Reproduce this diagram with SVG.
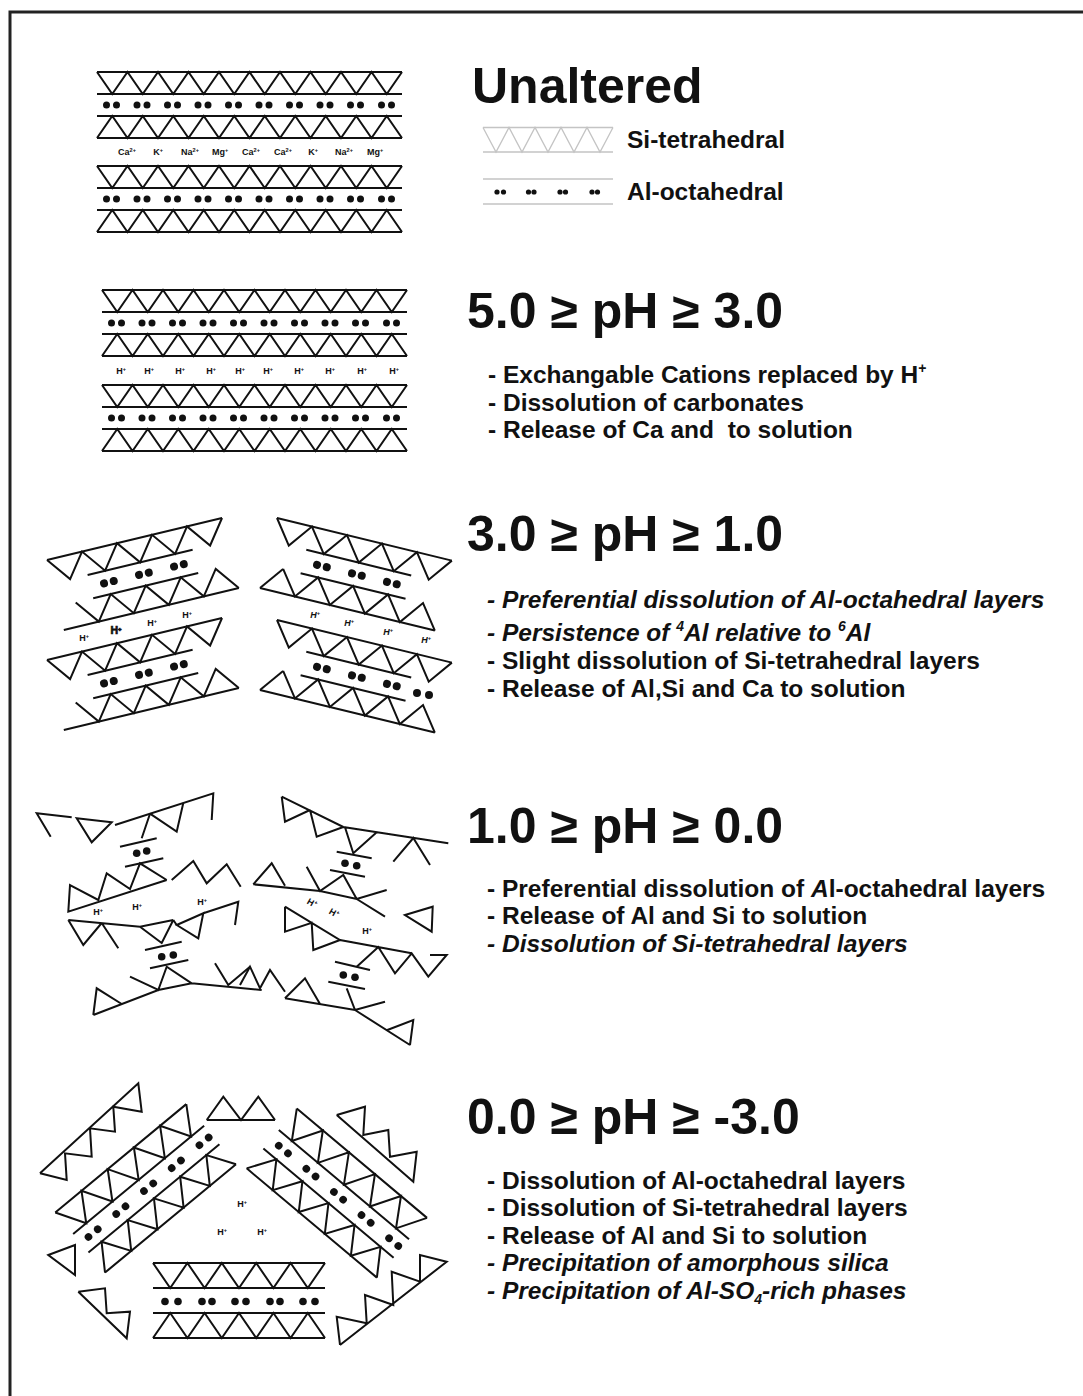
<svg xmlns="http://www.w3.org/2000/svg" xmlns:xlink="http://www.w3.org/1999/xlink" width="1083" height="1396" viewBox="0 0 1083 1396">
<style>
  .ln{fill:none;stroke:#111;stroke-width:2;stroke-linejoin:miter}
  .dt{fill:#111}
  .lg{fill:none;stroke:#c4c4c4;stroke-width:1.3}
  .tx{font-family:"Liberation Sans",Arial,sans-serif;font-weight:bold;fill:#111}
  .hd{font-size:50px}
  .bd{font-size:24.5px}
  .it{font-style:italic}
</style>
<defs>
  <!-- flat T-O-T layer: tetrahedral / octahedral / tetrahedral, 10 units wide -->
  <g id="tot">
    <path class="ln" d="M0,0H305M0,22H305M0,44H305M0,66H305"/>
    <polyline class="ln" points="0,0 15.25,22 30.5,0 45.75,22 61,0 76.25,22 91.5,0 106.75,22 122,0 137.25,22 152.5,0 167.75,22 183,0 198.25,22 213.5,0 228.75,22 244,0 259.25,22 274.5,0 289.75,22 305,0"/>
    <polyline class="ln" points="0,66 15.25,44 30.5,66 45.75,44 61,66 76.25,44 91.5,66 106.75,44 122,66 137.25,44 152.5,66 167.75,44 183,66 198.25,44 213.5,66 228.75,44 244,66 259.25,44 274.5,66 289.75,44 305,66"/>
    <g class="dt">
      <circle cx="9.5" cy="33" r="3.5"/><circle cx="19.5" cy="33" r="3.5"/>
      <circle cx="40" cy="33" r="3.5"/><circle cx="50" cy="33" r="3.5"/>
      <circle cx="70.5" cy="33" r="3.5"/><circle cx="80.5" cy="33" r="3.5"/>
      <circle cx="101" cy="33" r="3.5"/><circle cx="111" cy="33" r="3.5"/>
      <circle cx="131.5" cy="33" r="3.5"/><circle cx="141.5" cy="33" r="3.5"/>
      <circle cx="162" cy="33" r="3.5"/><circle cx="172" cy="33" r="3.5"/>
      <circle cx="192.5" cy="33" r="3.5"/><circle cx="202.5" cy="33" r="3.5"/>
      <circle cx="223" cy="33" r="3.5"/><circle cx="233" cy="33" r="3.5"/>
      <circle cx="253.5" cy="33" r="3.5"/><circle cx="263.5" cy="33" r="3.5"/>
      <circle cx="284.5" cy="33" r="3.5"/><circle cx="294.5" cy="33" r="3.5"/>
    </g>
  </g>
  <!-- short tilted layer with partly stripped octahedral sheet -->
  <g id="tots">
    <path class="ln" d="M0,0H180M36,24H144M36,48H144M0,72H180"/>
    <polyline class="ln" points="0,0 18,24 36,0 54,24 72,0 90,24 108,0 126,24 144,0 162,24 180,0"/>
    <polyline class="ln" points="18,48 36,72 54,48 72,72 90,48 108,72 126,48 144,72 162,48 180,72"/>
    <g class="dt">
      <circle cx="50" cy="36" r="4"/><circle cx="60" cy="36" r="4"/>
      <circle cx="86" cy="36" r="4"/><circle cx="96" cy="36" r="4"/>
      <circle cx="122" cy="36" r="4"/><circle cx="132" cy="36" r="4"/>
    </g>
  </g>
  <!-- diagonal layer fragment used in the strongest acid stage -->
  <g id="totd">
    <path class="ln" d="M0,0H170M0,28H170M0,52H170M0,78H170"/>
    <polyline class="ln" points="0,0 17,28 34,0 51,28 68,0 85,28 102,0 119,28 136,0 153,28 170,0"/>
    <polyline class="ln" points="0,78 17,52 34,78 51,52 68,78 85,52 102,78 119,52 136,78 153,52 170,78"/>
    <g class="dt">
      <circle cx="10" cy="40" r="3.8"/><circle cx="22" cy="40" r="3.8"/>
      <circle cx="46" cy="40" r="3.8"/><circle cx="58" cy="40" r="3.8"/>
      <circle cx="82" cy="40" r="3.8"/><circle cx="94" cy="40" r="3.8"/>
      <circle cx="118" cy="40" r="3.8"/><circle cx="130" cy="40" r="3.8"/>
      <circle cx="154" cy="40" r="3.8"/><circle cx="166" cy="40" r="3.8"/>
    </g>
  </g>
</defs>

<rect width="1083" height="1396" fill="#fff"/>
<!-- frame -->
<path d="M10,1396V12H1083" fill="none" stroke="#222" stroke-width="3"/>

<!-- ===== Unaltered ===== -->
<g id="unaltered">
  <use xlink:href="#tot" href="#tot" transform="translate(97,72)"/>
  <use xlink:href="#tot" href="#tot" transform="translate(97,166)"/>
  <g class="tx" font-size="9" text-anchor="middle">
    <text x="127" y="155">Ca<tspan font-size="5.5" dy="-3.5">2+</tspan></text>
    <text x="158" y="155">K<tspan font-size="5.5" dy="-3.5">+</tspan></text>
    <text x="190" y="155">Na<tspan font-size="5.5" dy="-3.5">2+</tspan></text>
    <text x="220" y="155">Mg<tspan font-size="5.5" dy="-3.5">+</tspan></text>
    <text x="251" y="155">Ca<tspan font-size="5.5" dy="-3.5">2+</tspan></text>
    <text x="283" y="155">Ca<tspan font-size="5.5" dy="-3.5">2+</tspan></text>
    <text x="313" y="155">K<tspan font-size="5.5" dy="-3.5">+</tspan></text>
    <text x="344" y="155">Na<tspan font-size="5.5" dy="-3.5">2+</tspan></text>
    <text x="375" y="155">Mg<tspan font-size="5.5" dy="-3.5">+</tspan></text>
  </g>
</g>
<g id="legend">
  <text class="tx" x="472" y="103" font-size="50">Unaltered</text>
  <path class="lg" d="M483,127.5H613M483,152H613"/>
  <polyline class="lg" points="483,127.5 496,152 509,127.5 522,152 535,127.5 548,152 561,127.5 574,152 587,127.5 600,152 613,127.5"/>
  <text class="tx bd" x="627" y="148">Si-tetrahedral</text>
  <path class="lg" d="M483,179H613M483,204H613"/>
  <g class="dt">
    <circle cx="497" cy="192" r="2.6"/><circle cx="503.5" cy="192" r="2.6"/>
    <circle cx="528.5" cy="192" r="2.6"/><circle cx="534" cy="192" r="2.6"/>
    <circle cx="560" cy="192" r="2.6"/><circle cx="565.5" cy="192" r="2.6"/>
    <circle cx="592" cy="192" r="2.6"/><circle cx="597.5" cy="192" r="2.6"/>
  </g>
  <text class="tx bd" x="627" y="200">Al-octahedral</text>
</g>

<!-- ===== 5.0 >= pH >= 3.0 ===== -->
<g id="stage-ph5">
  <use xlink:href="#tot" href="#tot" transform="translate(102,290)"/>
  <use xlink:href="#tot" href="#tot" transform="translate(102,385)"/>
  <g class="tx" font-size="9" text-anchor="middle">
    <text x="121" y="374">H<tspan font-size="5.5" dy="-3.5">+</tspan></text>
    <text x="149" y="374">H<tspan font-size="5.5" dy="-3.5">+</tspan></text>
    <text x="180" y="374">H<tspan font-size="5.5" dy="-3.5">+</tspan></text>
    <text x="211" y="374">H<tspan font-size="5.5" dy="-3.5">+</tspan></text>
    <text x="240" y="374">H<tspan font-size="5.5" dy="-3.5">+</tspan></text>
    <text x="268" y="374">H<tspan font-size="5.5" dy="-3.5">+</tspan></text>
    <text x="299" y="374">H<tspan font-size="5.5" dy="-3.5">+</tspan></text>
    <text x="330" y="374">H<tspan font-size="5.5" dy="-3.5">+</tspan></text>
    <text x="362" y="374">H<tspan font-size="5.5" dy="-3.5">+</tspan></text>
    <text x="394" y="374">H<tspan font-size="5.5" dy="-3.5">+</tspan></text>
  </g>
  <text class="tx hd" x="467" y="328">5.0 ≥ pH ≥ 3.0</text>
  <text class="tx bd" x="488" y="383">- Exchangable Cations replaced by H<tspan font-size="14" dy="-10">+</tspan></text>
  <text class="tx bd" x="488" y="411">- Dissolution of carbonates</text>
  <text class="tx bd" x="488" y="438" xml:space="preserve">- Release of Ca and  to solution</text>
</g>

<!-- ===== 3.0 >= pH >= 1.0 ===== -->
<g id="stage-ph3">
  <use xlink:href="#tots" href="#tots" transform="translate(47,560) rotate(-13.5)"/>
  <use xlink:href="#tots" href="#tots" transform="translate(47,660) rotate(-13.5)"/>
  <use xlink:href="#tots" href="#tots" transform="translate(277,518) rotate(13.7)"/>
  <use xlink:href="#tots" href="#tots" transform="translate(277,620) rotate(13.7)"/>
  <!-- closing edges of the right-hand stack's lower tetrahedral rows -->
  <g class="ln">
    <line x1="260" y1="588" x2="283.1" y2="568.9"/>
    <line x1="260" y1="690" x2="283.1" y2="670.9"/>
  </g>
  <g class="dt"><circle cx="417" cy="693" r="4"/><circle cx="429" cy="695" r="4"/></g>
  <g class="tx" font-size="9" text-anchor="middle">
    <text x="84" y="641">H<tspan font-size="5.5" dy="-3.5">+</tspan></text>
    <text x="116" y="634" font-size="10.5" stroke="#111" stroke-width="0.7">H<tspan font-size="6" dy="-3.5">+</tspan></text>
    <text x="152" y="626">H<tspan font-size="5.5" dy="-3.5">+</tspan></text>
    <text x="187" y="618">H<tspan font-size="5.5" dy="-3.5">+</tspan></text>
    <text class="it" x="315" y="618">H<tspan font-size="5.5" dy="-3.5">+</tspan></text>
    <text class="it" x="349" y="626">H<tspan font-size="5.5" dy="-3.5">+</tspan></text>
    <text class="it" x="388" y="635">H<tspan font-size="5.5" dy="-3.5">+</tspan></text>
    <text class="it" x="426" y="643">H<tspan font-size="5.5" dy="-3.5">+</tspan></text>
  </g>
  <text class="tx hd" x="467" y="551">3.0 ≥ pH ≥ 1.0</text>
  <text class="tx bd it" x="487" y="608">- Preferential dissolution of Al-octahedral layers</text>
  <text class="tx bd it" x="487" y="641">- Persistence of <tspan font-size="14" dy="-10">4</tspan><tspan dy="10">Al relative to </tspan><tspan font-size="14" dy="-10">6</tspan><tspan dy="10">Al</tspan></text>
  <text class="tx bd" x="487" y="669">- Slight dissolution of Si-tetrahedral layers</text>
  <text class="tx bd" x="487" y="697">- Release of Al,Si and Ca to solution</text>
</g>

<!-- ===== 1.0 >= pH >= 0.0 ===== -->
<g id="stage-ph1">
  <g class="ln">
    <!-- left fragments -->
    <polyline points="71.7,817.3 36.7,813.3 50.7,836.7"/>
    <polygon points="76.7,818.3 111.7,822.3 91.7,842.3"/>
    <polyline points="115,825 213.3,793.3 211.7,820"/>
    <path d="M150,813.7L176.7,831.7L183.3,803M150,813.7L141.7,838.3"/>
    <path d="M120,846.7L156.7,838.3M125,866.7L163.3,858.3"/>
    <polyline points="166.7,880 68.3,911.7 70,885 98.3,900 106.7,873.3 130,889 140,863.3 166.7,880"/>
    <polyline points="171.7,880 193.3,861 206.7,883.3 226.7,864.3 240.7,886.7"/>
    <path d="M68.3,920L140,926.7L173.3,920M68.3,920L83.3,945L101.7,923M101.7,923L118.3,948.3M140,926.7L161.7,943L173.3,920M173.3,920L176.7,925"/>
    <polygon points="176.7,925 203.3,913.3 198.3,938.3"/>
    <polyline points="203.3,913.3 238.3,901.7 235,925"/>
    <path d="M145,950L181.7,941.7M150,968.3L188.3,960"/>
    <path d="M93.3,1015L158.3,990L191.7,983.3L261.7,990M93.3,1015L96.7,988.3L121.7,1004M130,976.7L158.3,990L166.7,966.7L191.7,983.3M215,963.3L228.3,985L250,966.7"/>
    <!-- right fragments -->
    <path d="M281.7,796.7L343.3,827L448.3,843.3M281.7,796.7L285,821.7L310,810M310,810L316.7,836.7L343.3,827M345,827.3L353.3,853.3L376.7,832.2M393.3,861.7L413.3,838L430,865"/>
    <path d="M336.7,851.7L371.7,858.3M330,870L365,876.7"/>
    <path d="M253.3,884.3L271.7,863.3L285,885.7M253.3,884.3L320,891L356.7,899L386.7,890M356.7,899L385,916.7M306.7,866.7L320,891L343.3,875L356.7,899"/>
    <polygon points="405,915 432.7,906.7 431.7,931.7"/>
    <path d="M285,906.7L340,940L411.7,953.3M285,906.7L285,931.7L311.7,922.9L313.3,950L340,940M356.7,966.7L378.3,947L395,973.3L411.7,953.3L428.3,976.7L446.7,955L430,955"/>
    <path d="M335,961.7L370,970M328.3,981.7L365,989"/>
    <path d="M285,998.3L305,978.3L320,1004M285,998.3L355,1010L385,1001.7M355,1010L410,1045M346.7,988.3L355,1010M386.7,1030.2L413.3,1020L410,1045"/>
    <path d="M240,985L250,966.7L260,988.3L270,970L285,991.7"/>
  </g>
  <g class="dt">
    <circle cx="136.7" cy="853.3" r="3.8"/><circle cx="146.7" cy="851" r="3.8"/>
    <circle cx="161.7" cy="956.7" r="3.8"/><circle cx="173.3" cy="955" r="3.8"/>
    <circle cx="345" cy="863.3" r="3.8"/><circle cx="356.7" cy="865.7" r="3.8"/>
    <circle cx="343.3" cy="975" r="3.8"/><circle cx="355" cy="977.3" r="3.8"/>
  </g>
  <g class="tx" font-size="9" text-anchor="middle">
    <text x="98" y="915">H<tspan font-size="5.5" dy="-3.5">+</tspan></text>
    <text x="137" y="910">H<tspan font-size="5.5" dy="-3.5">+</tspan></text>
    <text x="202" y="905">H<tspan font-size="5.5" dy="-3.5">+</tspan></text>
    <text x="312" y="906" transform="rotate(30 312 903)">H<tspan font-size="5.5" dy="-3.5">+</tspan></text>
    <text x="334" y="916" transform="rotate(30 334 913)">H<tspan font-size="5.5" dy="-3.5">+</tspan></text>
    <text x="367" y="934">H<tspan font-size="5.5" dy="-3.5">+</tspan></text>
  </g>
  <text class="tx hd" x="467" y="843">1.0 ≥ pH ≥ 0.0</text>
  <text class="tx bd" x="487" y="897">- Preferential dissolution of <tspan class="it">A</tspan>l-octahedral layers</text>
  <text class="tx bd" x="487" y="924">- Release of Al and Si to solution</text>
  <text class="tx bd it" x="487" y="952">- Dissolution of Si-tetrahedral layers</text>
</g>

<!-- ===== 0.0 >= pH >= -3.0 ===== -->
<g id="stage-ph0">
  <use xlink:href="#totd" href="#totd" transform="translate(55.3,1212.5) rotate(-39.6)"/>
  <use xlink:href="#totd" href="#totd" transform="translate(296.8,1108.6) rotate(40)"/>
  <g transform="translate(153,1263)">
    <path class="ln" d="M0,0H172M0,25H172M0,50H172M0,75H172"/>
    <polyline class="ln" points="0,0 17.2,25 34.4,0 51.6,25 68.8,0 86,25 103.2,0 120.4,25 137.6,0 154.8,25 172,0"/>
    <polyline class="ln" points="0,75 17.2,50 34.4,75 51.6,50 68.8,75 86,50 103.2,75 120.4,50 137.6,75 154.8,50 172,75"/>
    <g class="dt">
      <circle cx="12" cy="38.5" r="3.8"/><circle cx="25" cy="38.5" r="3.8"/>
      <circle cx="49" cy="38.5" r="3.8"/><circle cx="59" cy="38.5" r="3.8"/>
      <circle cx="82" cy="38.5" r="3.8"/><circle cx="93" cy="38.5" r="3.8"/>
      <circle cx="117" cy="38.5" r="3.8"/><circle cx="127" cy="38.5" r="3.8"/>
      <circle cx="150" cy="38.5" r="3.8"/><circle cx="162" cy="38.5" r="3.8"/>
    </g>
  </g>
  <g class="ln">
    <path d="M206.7,1120H275M206.7,1120L223.3,1096.7L241,1120L258.3,1096.7L275,1120"/>
    <path d="M40,1173.3L138.3,1083.3L141.7,1111.7L113.3,1106.7L115,1131.7L90,1128.3L91.7,1156.7L65,1153.3L66.7,1180L40,1173.3"/>
    <polygon points="48.3,1255 75,1245 75,1275"/>
    <path d="M78.3,1291.7L126.7,1338.3L130,1311.7L106.7,1313.3L105,1288.3L78.3,1291.7"/>
    <path d="M336.7,1115L413.3,1181.7L416.7,1151.7L390,1156.7L388.3,1130L363.3,1135L365,1106.7L336.7,1115"/>
    <path d="M340,1345L446.7,1261.7L420,1255L420,1281.7L391.7,1271.7L393.3,1305L365,1295L366.7,1323.3L336.7,1316.7L340,1345"/>
  </g>
  <g class="tx" font-size="9" text-anchor="middle">
    <text x="242" y="1207">H<tspan font-size="5.5" dy="-3.5">+</tspan></text>
    <text x="222" y="1235">H<tspan font-size="5.5" dy="-3.5">+</tspan></text>
    <text x="262" y="1235">H<tspan font-size="5.5" dy="-3.5">+</tspan></text>
  </g>
  <text class="tx hd" x="467" y="1134">0.0 ≥ pH ≥ -3.0</text>
  <text class="tx bd" x="487" y="1189">- Dissolution of Al-octahedral layers</text>
  <text class="tx bd" x="487" y="1216">- Dissolution of Si-tetrahedral layers</text>
  <text class="tx bd" x="487" y="1244">- Release of Al and Si to solution</text>
  <text class="tx bd it" x="487" y="1271">- Precipitation of amorphous silica</text>
  <text class="tx bd it" x="487" y="1299">- Precipitation of Al-SO<tspan font-size="14" dy="5">4</tspan><tspan dy="-5">-rich phases</tspan></text>
</g>
</svg>
